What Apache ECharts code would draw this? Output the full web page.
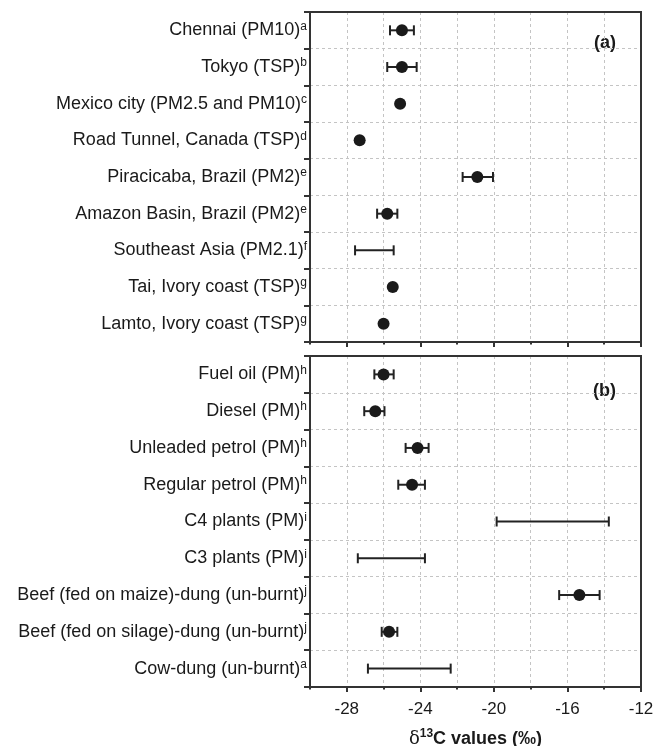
<!DOCTYPE html>
<html>
<head>
<meta charset="utf-8">
<script src="https://cdn.jsdelivr.net/npm/echarts@6/dist/echarts.min.js"></script>
<style>
html,body{margin:0;padding:0;background:#fff;}
#chart{width:656px;height:746px;}
</style>
</head>
<body>
<div id="chart"></div>
<script>
// ---------- data ----------
const catsA = ['Chennai (PM10)', 'Tokyo (TSP)', 'Mexico city (PM2.5 and PM10)', 'Road Tunnel, Canada (TSP)', 'Piracicaba, Brazil (PM2)', 'Amazon Basin, Brazil (PM2)', 'Southeast Asia (PM2.1)', 'Tai, Ivory coast (TSP)', 'Lamto, Ivory coast (TSP)'];
const supA = ['a', 'b', 'c', 'd', 'e', 'e', 'f', 'g', 'g'];
const meanA = [-25.0, -25.0, -25.1, -27.3, -20.9, -25.8, null, -25.5, -26.0];
const lowA = [-25.65, -25.8, null, null, -21.7, -26.35, -27.55, null, null];
const highA = [-24.35, -24.2, null, null, -20.05, -25.25, -25.45, null, null];

const catsB = ['Fuel oil (PM)', 'Diesel (PM)', 'Unleaded petrol (PM)', 'Regular petrol (PM)', 'C4 plants (PM)', 'C3 plants (PM)', 'Beef (fed on maize)-dung (un-burnt)', 'Beef (fed on silage)-dung (un-burnt)', 'Cow-dung (un-burnt)'];
const supB = ['h', 'h', 'h', 'h', 'i', 'i', 'j', 'j', 'a'];
const meanB = [-26.0, -26.45, -24.15, -24.45, null, null, -15.35, -25.7, null];
const lowB = [-26.5, -27.05, -24.8, -25.2, -19.85, -27.4, -16.45, -26.1, -26.85];
const highB = [-25.45, -25.95, -23.55, -23.75, -13.75, -23.75, -14.25, -25.25, -22.35];

const xMin = -30, xMax = -12, xStep = 2;
const majorTicks = [-28, -24, -20, -16, -12];
const panelLabels = ['(a)', '(b)'];

// ---------- helpers ----------
const FONT = '"Liberation Sans", Arial, sans-serif';
const TXT = '#1a1a1a';
const AX = '#333';

function scatterData(means) {
  const out = [];
  means.forEach((v, i) => { if (v !== null) out.push([v, i]); });
  return out;
}
function barData(lows, highs) {
  const out = [];
  lows.forEach((v, i) => { if (v !== null && highs[i] !== null) out.push([v, highs[i], i]); });
  return out;
}
function renderErr(params, api) {
  const y = api.value(2);
  const p1 = api.coord([api.value(0), y]);
  const p2 = api.coord([api.value(1), y]);
  const h = 5;
  const st = { stroke: '#222', lineWidth: 2 };
  return {
    type: 'group',
    children: [
      { type: 'line', shape: { x1: p1[0], y1: p1[1], x2: p2[0], y2: p2[1] }, style: st },
      { type: 'line', shape: { x1: p1[0], y1: p1[1] - h, x2: p1[0], y2: p1[1] + h }, style: st },
      { type: 'line', shape: { x1: p2[0], y1: p2[1] - h, x2: p2[0], y2: p2[1] + h }, style: st }
    ]
  };
}
function catAxis(gridIndex, cats, sups) {
  return {
    type: 'category', gridIndex, data: cats, inverse: true,
    axisLine: { lineStyle: { color: AX, width: 2 } },
    axisTick: { show: true, length: 6, lineStyle: { color: AX, width: 2 } },
    splitLine: { show: true, lineStyle: { color: '#c4c4c4', type: [3, 3], width: 1 } },
    axisLabel: {
      margin: 3, interval: 0,
      formatter: (v, i) => '{n|' + v + '}{s|' + sups[i] + '}',
      rich: {
        n: { fontFamily: FONT, fontSize: 18, color: TXT, lineHeight: 20 },
        s: { fontFamily: FONT, fontSize: 12, color: TXT, verticalAlign: 'top', lineHeight: 20 }
      }
    }
  };
}
function valAxis(gridIndex, withLabels) {
  const ax = {
    type: 'value', gridIndex, min: xMin, max: xMax, interval: xStep, position: 'bottom',
    axisLine: { show: true, onZero: false, lineStyle: { color: AX, width: 2 } },
    axisTick: { show: true, length: 2.5, lineStyle: { color: AX, width: 2 } },
    splitLine: { show: true, lineStyle: { color: '#c4c4c4', type: [3, 3], width: 1 } },
    axisLabel: withLabels ? { show: true, customValues: majorTicks, fontFamily: FONT, fontSize: 17, color: TXT, margin: 14 } : { show: false }
  };
  if (withLabels) {
    ax.name = '{d|δ}{s|13}{b|C values (‰)}';
    ax.nameLocation = 'middle';
    ax.nameGap = 41;
    ax.nameTextStyle = {
      rich: {
        d: { fontFamily: '"DejaVu Serif", serif', fontSize: 18, color: TXT, lineHeight: 22 },
        s: { fontFamily: FONT, fontSize: 12, fontWeight: 'bold', color: TXT, verticalAlign: 'top', lineHeight: 22 },
        b: { fontFamily: FONT, fontSize: 18, fontWeight: 'bold', color: TXT, lineHeight: 22 }
      }
    };
  }
  return ax;
}
function majorAxis(gridIndex) {
  return {
    type: 'value', gridIndex, min: xMin, max: xMax, interval: xStep, position: 'bottom', offset: 0,
    axisLine: { show: false, onZero: false },
    axisTick: { show: true, length: 5, customValues: majorTicks, lineStyle: { color: AX, width: 2 } },
    splitLine: { show: false },
    axisLabel: { show: false }
  };
}

const chart = echarts.init(document.getElementById('chart'), null, { renderer: 'canvas' });
chart.setOption({
  backgroundColor: '#fff',
  animation: false,
  grid: [
    { left: 310, top: 12, width: 331, height: 330, show: true, z: 10, borderColor: AX, borderWidth: 2, backgroundColor: 'transparent', containLabel: false, outerBoundsMode: 'none' },
    { left: 310, top: 356, width: 331, height: 331, show: true, z: 10, borderColor: AX, borderWidth: 2, backgroundColor: 'transparent', containLabel: false, outerBoundsMode: 'none' }
  ],
  xAxis: [valAxis(0, false), valAxis(1, true), majorAxis(0), majorAxis(1)],
  yAxis: [catAxis(0, catsA, supA), catAxis(1, catsB, supB)],
  graphic: [
    { type: 'text', right: 40, top: 34, style: { text: panelLabels[0], font: 'bold 18px ' + FONT, fill: TXT } },
    { type: 'text', right: 40, top: 382, style: { text: panelLabels[1], font: 'bold 18px ' + FONT, fill: TXT } }
  ],
  series: [
    { type: 'custom', xAxisIndex: 0, yAxisIndex: 0, renderItem: renderErr, encode: { x: [0, 1], y: 2 }, data: barData(lowA, highA), z: 3 },
    { type: 'scatter', xAxisIndex: 0, yAxisIndex: 0, symbol: 'circle', symbolSize: 12, itemStyle: { color: '#1a1a1a', opacity: 1 }, data: scatterData(meanA), z: 4 },
    { type: 'custom', xAxisIndex: 1, yAxisIndex: 1, renderItem: renderErr, encode: { x: [0, 1], y: 2 }, data: barData(lowB, highB), z: 3 },
    { type: 'scatter', xAxisIndex: 1, yAxisIndex: 1, symbol: 'circle', symbolSize: 12, itemStyle: { color: '#1a1a1a', opacity: 1 }, data: scatterData(meanB), z: 4 }
  ]
});
</script>
</body>
</html>
